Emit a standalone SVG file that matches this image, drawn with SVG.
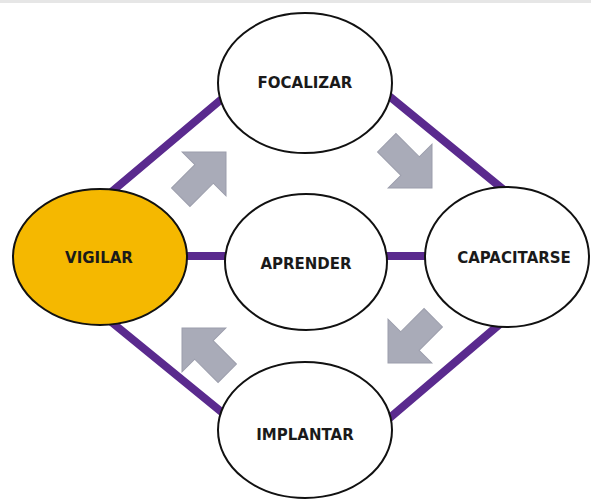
<svg xmlns="http://www.w3.org/2000/svg" width="591" height="500" viewBox="0 0 591 500">
  <style>
    .node { fill: #ffffff; stroke: #111111; stroke-width: 2; }
    .node.active { fill: #f5b800; }
    .label { font-family: "DejaVu Sans", Verdana, sans-serif; font-weight: bold; font-size: 15px; fill: #1a1a1a; text-anchor: middle; }
    .link { fill: none; stroke: #5a2a8e; stroke-width: 8; stroke-linejoin: round; }
    .flow { fill: #a9abb8; stroke: #9c9eac; stroke-width: 1; }
  </style>
  <defs>
    <!-- block arrow pointing along +x, tip at origin -->
    <polygon id="blockArrow" points="0,0 -31,-31 -31,-13 -64,-13 -64,13 -31,13 -31,31"/>
  </defs>

  <rect x="0" y="0" width="591" height="500" fill="#ffffff"/>
  <rect x="0" y="0" width="591" height="3" fill="#e6e6e6"/>

  <!-- connectors: outer ring and the central crossbar -->
  <g id="connectors">
    <polygon class="link" points="306,28 582,254 311,485 33,258"/>
    <line class="link" x1="100" y1="256" x2="507" y2="256"/>
  </g>

  <!-- cycle direction arrows -->
  <g id="flow-arrows">
    <use href="#blockArrow" class="flow" transform="translate(226,152) rotate(-45)"/>
    <use href="#blockArrow" class="flow" transform="translate(432,188) rotate(45)"/>
    <use href="#blockArrow" class="flow" transform="translate(388,363) rotate(135)"/>
    <use href="#blockArrow" class="flow" transform="translate(182,328) rotate(-135)"/>
  </g>

  <g id="focalizar">
    <ellipse class="node" cx="305" cy="83" rx="87" ry="70"/>
    <text class="label" x="305" y="88">FOCALIZAR</text>
  </g>
  <g id="vigilar">
    <ellipse class="node active" cx="100" cy="257" rx="87" ry="68"/>
    <text class="label" x="99" y="263">VIGILAR</text>
  </g>
  <g id="aprender">
    <ellipse class="node" cx="306" cy="262" rx="81" ry="68"/>
    <text class="label" x="306" y="269">APRENDER</text>
  </g>
  <g id="capacitarse">
    <ellipse class="node" cx="507" cy="257" rx="82" ry="70"/>
    <text class="label" x="514" y="263">CAPACITARSE</text>
  </g>
  <g id="implantar">
    <ellipse class="node" cx="305" cy="430" rx="87" ry="68"/>
    <text class="label" x="305" y="440">IMPLANTAR</text>
  </g>
</svg>
